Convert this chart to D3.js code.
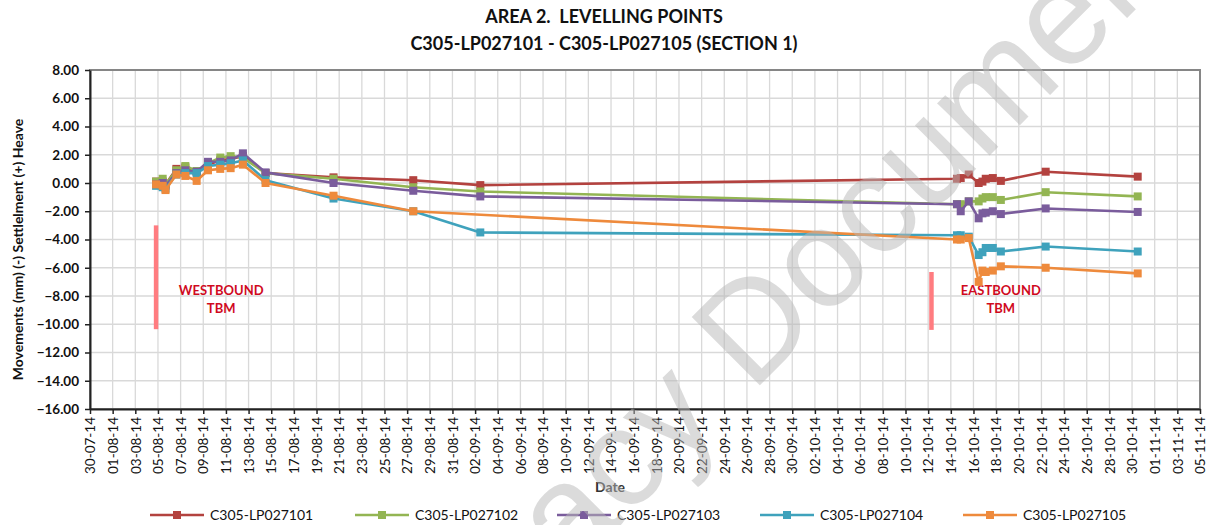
<!DOCTYPE html>
<html><head><meta charset="utf-8">
<script src="https://cdn.jsdelivr.net/npm/d3@7/dist/d3.min.js"></script>
<style>
body{margin:0;background:#fff;}
svg{display:block;font-family:Lato,"Open Sans",sans-serif;}
</style></head>
<body>
<svg id="chart" width="1207" height="525"></svg>
<script>
// ---------- DATA ----------
const dates = [
  "2014-08-04T20:00","2014-08-05T10:00","2014-08-05T16:00","2014-08-06T15:00",
  "2014-08-07T10:00","2014-08-08T10:00","2014-08-09T10:00","2014-08-10T12:00",
  "2014-08-11T10:00","2014-08-12T12:00","2014-08-14T12:00","2014-08-20T12:00",
  "2014-08-27T13:00","2014-09-02T11:00","2014-10-14T13:00","2014-10-14T21:00",
  "2014-10-15T14:00","2014-10-16T11:00","2014-10-16T19:00","2014-10-17T02:00",
  "2014-10-17T17:00","2014-10-18T10:00","2014-10-22T09:00","2014-10-30T12:00"
];
const seriesNames = ["C305-LP027101","C305-LP027102","C305-LP027103","C305-LP027104","C305-LP027105"];
const lp027101 = [0.1,0.1,-0.1,1.0,1.1,0.8,1.3,1.6,1.7,1.9,0.7,0.4,0.2,-0.15,0.3,0.35,0.6,0.0,0.1,0.3,0.35,0.15,0.8,0.45];
const lp027102 = [0.1,0.3,-0.1,0.9,1.2,0.85,1.4,1.8,1.9,1.8,0.7,0.3,-0.3,-0.6,-1.5,-1.5,-1.3,-1.3,-1.1,-1.0,-1.0,-1.2,-0.65,-0.95];
const lp027103 = [-0.1,0.0,-0.2,0.7,0.9,0.8,1.5,1.5,1.6,2.1,0.75,0.0,-0.55,-0.95,-1.5,-2.0,-1.3,-2.5,-2.15,-2.1,-2.0,-2.2,-1.8,-2.05];
const lp027104 = [-0.2,-0.3,-0.4,0.6,0.7,0.7,1.2,1.3,1.4,1.6,0.2,-1.1,-2.0,-3.5,-3.7,-3.7,-3.8,-5.1,-4.9,-4.6,-4.6,-4.85,-4.5,-4.85];
const lp027105 = [-0.1,-0.2,-0.5,0.6,0.5,0.15,0.9,1.0,1.05,1.3,0.0,-0.9,-2.0,null,-4.0,-4.0,-3.9,-7.0,-6.2,-6.3,-6.2,-5.9,-6.0,-6.4];
const seriesValues = [lp027101,lp027102,lp027103,lp027104,lp027105];
const seriesColors = ["#B3423F","#93B553","#7A5C9C","#3FA2BC","#EE8A3C"];

const yTicks = [8,6,4,2,0,-2,-4,-6,-8,-10,-12,-14,-16];
const xStart = "2014-07-30", xEnd = "2014-11-05";

// TBM markers
const tbmDates = ["2014-08-04T20:00","2014-10-12T07:00"];
const tbmFrom = [-3.0,-6.3];
const tbmTo = [-10.35,-10.4];
const tbmLabels = [["WESTBOUND","TBM"],["EASTBOUND","TBM"]];
const tbmLabelDates = ["2014-08-10T14:00","2014-10-18T10:00"];
const tbmLabelValue = -7.9;

const titleLines = ["AREA 2.  LEVELLING POINTS","C305-LP027101 - C305-LP027105 (SECTION 1)"];
const yTitle = "Movements (mm) (-) Settlelment (+) Heave";
const xTitle = "Date";
const watermark = "Legacy Document";

// ---------- CHART ----------
const svg = d3.select("#chart");
const plot = {left:90, right:1200, top:70, bottom:409};
const parse = s => new Date(s);
const x = d3.scaleTime().domain([parse(xStart), parse(xEnd)]).range([plot.left, plot.right]);
const y = d3.scaleLinear().domain([-16, 8]).range([plot.bottom, plot.top]);

const xTickDates = d3.timeDay.range(parse(xStart), d3.timeDay.offset(parse(xEnd),1), 2);
const fmt = d3.timeFormat("%d-%m-%y");

// grid
const grid = svg.append("g");
grid.selectAll("line.v").data(xTickDates).join("line")
  .attr("x1", d=>x(d)).attr("x2", d=>x(d)).attr("y1", plot.top).attr("y2", plot.bottom)
  .attr("stroke","#d9d9d9").attr("stroke-width",1.3);
grid.selectAll("line.h").data(yTicks).join("line")
  .attr("x1", plot.left).attr("x2", plot.right).attr("y1", d=>y(d)).attr("y2", d=>y(d))
  .attr("stroke","#d9d9d9").attr("stroke-width",1.3);

// frame
svg.append("rect").attr("x",plot.left).attr("y",plot.top)
  .attr("width",plot.right-plot.left).attr("height",plot.bottom-plot.top)
  .attr("fill","none").attr("stroke","#868686").attr("stroke-width",2);

// axes
const yAxis = svg.append("g").attr("transform",`translate(${plot.left},0)`)
  .call(d3.axisLeft(y).tickValues(yTicks).tickFormat(d3.format(".2f")).tickSize(5).tickSizeOuter(0));
yAxis.select(".domain").attr("stroke","#222").attr("stroke-width",2);
yAxis.selectAll(".tick line").attr("stroke","#222").attr("stroke-width",1.5);
yAxis.selectAll(".tick text").attr("x",-11).attr("font-size","13.5px").attr("font-family","Lato")
  .attr("font-weight","bold").attr("fill","#111");

const xAxis = svg.append("g").attr("transform",`translate(0,${plot.bottom})`)
  .call(d3.axisBottom(x).tickValues(xTickDates).tickFormat(fmt).tickSize(5).tickSizeOuter(0));
xAxis.select(".domain").attr("stroke","#222").attr("stroke-width",2);
xAxis.selectAll(".tick line").attr("stroke","#222").attr("stroke-width",1.5);
xAxis.selectAll(".tick text").attr("transform","rotate(-90)")
  .attr("x",-8).attr("y",0).attr("dy","0.35em").attr("text-anchor","end")
  .attr("font-size","13.5px").attr("font-family","Lato").attr("fill","#111");

// TBM bars and labels
svg.append("g").selectAll("line").data(tbmDates).join("line")
  .attr("x1",(d)=>x(parse(d))).attr("x2",(d)=>x(parse(d)))
  .attr("y1",(d,i)=>y(tbmFrom[i])).attr("y2",(d,i)=>y(tbmTo[i]))
  .attr("stroke","#FF7C80").attr("stroke-width",4.5);
tbmLabels.forEach((lines,i)=>{
  const t = svg.append("text").attr("text-anchor","middle").attr("fill","#D00A1E")
    .attr("font-weight","bold").attr("font-size","13px");
  lines.forEach((ln,j)=>{
    t.append("tspan").attr("x", x(parse(tbmLabelDates[i]))).attr("y", y(tbmLabelValue)+j*18).text(ln);
  });
});

// series
const line = d3.line().x(d=>x(d.date)).y(d=>y(d.v));
seriesValues.forEach((vals,i)=>{
  const pts = dates.map((d,k)=>({date:parse(d), v:vals[k]})).filter(p=>p.v!==null);
  const g = svg.append("g");
  g.append("path").datum(pts).attr("d",line).attr("fill","none")
    .attr("stroke",seriesColors[i]).attr("stroke-width",2.6).attr("stroke-linejoin","round");
  g.selectAll("rect").data(pts).join("rect")
    .attr("x",p=>x(p.date)-4).attr("y",p=>y(p.v)-4).attr("width",8).attr("height",8)
    .attr("fill",seriesColors[i]);
});

// titles
const tt = svg.append("text").attr("text-anchor","middle").attr("font-weight","bold")
  .attr("font-size","18px").attr("fill","#111").style("white-space","pre");
titleLines.forEach((t,j)=>tt.append("tspan").attr("x",604).attr("y",23+j*27).text(t));

svg.append("text").attr("transform",`translate(23,${(plot.top+plot.bottom)/2+10}) rotate(-90)`)
  .attr("text-anchor","middle").attr("font-size","14px").attr("font-weight","bold").attr("fill","#111")
  .text(yTitle);
svg.append("text").attr("x",610).attr("y",492).attr("text-anchor","middle")
  .attr("font-size","14px").attr("font-weight","bold").attr("fill","#333").text(xTitle);

// legend
const legendX = [150,355,557,760,963];
const lg = svg.append("g");
seriesNames.forEach((n,i)=>{
  const gx = legendX[i], gy = 515;
  lg.append("line").attr("x1",gx).attr("x2",gx+54).attr("y1",gy).attr("y2",gy)
    .attr("stroke",seriesColors[i]).attr("stroke-width",2.6);
  lg.append("rect").attr("x",gx+23).attr("y",gy-4).attr("width",8).attr("height",8).attr("fill",seriesColors[i]);
  lg.append("text").attr("x",gx+60).attr("y",gy+5).attr("font-size","14px").attr("fill","#111").text(n);
});

// watermark
svg.append("text").attr("transform","translate(405,740) rotate(-45)")
  .attr("font-family","Liberation Sans, Arial, sans-serif").attr("font-size","140px")
  .attr("fill","#b8b8b8").attr("fill-opacity",0.5).text(watermark);
</script>
</body></html>
